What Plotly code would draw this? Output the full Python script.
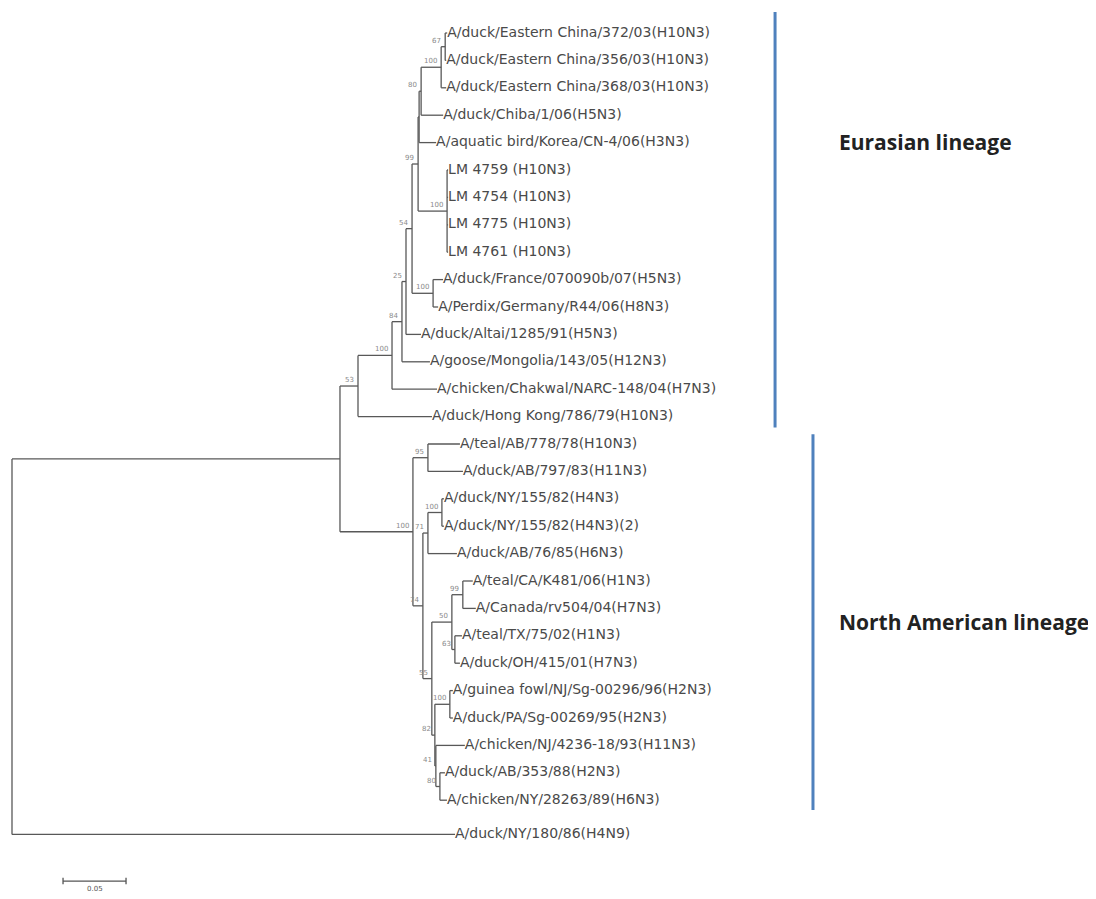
import plotly.graph_objects as go

# ---------------- tree data ----------------
names = [
    "root", "I", "E0", "E1", "E2", "E3", "E4", "X", "E6", "E7", "EC", "EC67",
    "A/duck/Eastern China/372/03(H10N3)", "A/duck/Eastern China/356/03(H10N3)",
    "A/duck/Eastern China/368/03(H10N3)", "A/duck/Chiba/1/06(H5N3)",
    "A/aquatic bird/Korea/CN-4/06(H3N3)",
    "LM", "LM 4759 (H10N3)", "LM 4754 (H10N3)", "LM 4775 (H10N3)", "LM 4761 (H10N3)",
    "FrPe", "A/duck/France/070090b/07(H5N3)", "A/Perdix/Germany/R44/06(H8N3)",
    "A/duck/Altai/1285/91(H5N3)", "A/goose/Mongolia/143/05(H12N3)",
    "A/chicken/Chakwal/NARC-148/04(H7N3)", "A/duck/Hong Kong/786/79(H10N3)",
    "N0", "ABp", "A/teal/AB/778/78(H10N3)", "A/duck/AB/797/83(H11N3)",
    "N1", "N71", "NYp", "A/duck/NY/155/82(H4N3)", "A/duck/NY/155/82(H4N3)(2)",
    "A/duck/AB/76/85(H6N3)",
    "N2", "G2", "G1", "A/teal/CA/K481/06(H1N3)", "A/Canada/rv504/04(H7N3)",
    "G3", "A/teal/TX/75/02(H1N3)", "A/duck/OH/415/01(H7N3)",
    "N3", "GP", "A/guinea fowl/NJ/Sg-00296/96(H2N3)", "A/duck/PA/Sg-00269/95(H2N3)",
    "N3b", "A/chicken/NJ/4236-18/93(H11N3)", "N4",
    "A/duck/AB/353/88(H2N3)", "A/chicken/NY/28263/89(H6N3)",
    "A/duck/NY/180/86(H4N9)",
]
parents = [
    None, "root", "I", "E0", "E1", "E2", "E3", "E4", "X", "E6", "E7", "EC",
    "EC67", "EC67",
    "EC", "E7",
    "E6",
    "X", "LM", "LM", "LM", "LM",
    "E4", "FrPe", "FrPe",
    "E3", "E2",
    "E1", "E0",
    "I", "N0", "ABp", "ABp",
    "N0", "N1", "N71", "NYp", "NYp",
    "N71",
    "N1", "N2", "G2", "G1", "G1",
    "G2", "G3", "G3",
    "N2", "N3", "GP", "GP",
    "N3", "N3b", "N3b",
    "N4", "N4",
    "root",
]
lengths = [
    0.0, 0.2603, 0.0143, 0.0270, 0.0079, 0.0032, 0.0048, 0.0048, 0.0008, 0.0016, 0.0159, 0.0032,
    0.0016, 0.0008,
    0.0040, 0.0175,
    0.0135,
    0.0230, 0.0008, 0.0008, 0.0008, 0.0008,
    0.0167, 0.0079, 0.0040,
    0.0119, 0.0222,
    0.0357, 0.0587,
    0.0579, 0.0119, 0.0254, 0.0278,
    0.0079, 0.0040, 0.0111, 0.0016, 0.0016,
    0.0230,
    0.0071, 0.0159, 0.0087, 0.0079, 0.0103,
    0.0024, 0.0056, 0.0040,
    0.0024, 0.0119, 0.0024, 0.0024,
    0.0008, 0.0230, 0.0032,
    0.0040, 0.0056,
    0.3516,
]
support = {
    "E0": 53, "E1": 100, "E2": 84, "E3": 25, "E4": 54, "X": 99, "E7": 80, "EC": 100,
    "EC67": 67, "LM": 100, "FrPe": 100,
    "N0": 100, "ABp": 95, "N1": 74, "N71": 71, "NYp": 100, "N2": 55, "G2": 50,
    "G1": 99, "G3": 63, "N3": 82, "GP": 100, "N3b": 41, "N4": 80,
}
lineage_names = ["Eurasian lineage", "North American lineage"]
lineage_first = ["A/duck/Eastern China/372/03(H10N3)", "A/teal/AB/778/78(H10N3)"]
lineage_last = ["A/duck/Hong Kong/786/79(H10N3)", "A/chicken/NY/28263/89(H6N3)"]
scale_length = 0.05
scale_label = "0.05"

# ---------------- layout of tree ----------------
children = {n: [] for n in names}
for n, p in zip(names, parents):
    if p is not None:
        children[p].append(n)
blen = dict(zip(names, lengths))

xpos, ypos = {}, {}
leaf_counter = [0.0]
outgroup_gap = 0.25


def place(node, x0):
    xpos[node] = x0 + blen[node]
    if not children[node]:
        ypos[node] = leaf_counter[0]
        leaf_counter[0] += 1
    else:
        for c in children[node]:
            if c == "A/duck/NY/180/86(H4N9)":
                leaf_counter[0] += outgroup_gap
            place(c, xpos[node])
        ypos[node] = (ypos[children[node][0]] + ypos[children[node][-1]]) / 2


place("root", 0.0)

hx, hy = [], []
for n, p in zip(names, parents):
    if p is not None:
        hx += [xpos[p], xpos[n], None]
        hy += [ypos[n], ypos[n], None]
    if children[n]:
        hx += [xpos[n], xpos[n], None]
        hy += [ypos[children[n][0]], ypos[children[n][-1]], None]

leaves = [n for n in names if not children[n]]

fig = go.Figure()
fig.add_trace(go.Scatter(x=hx, y=hy, mode="lines",
                         line=dict(color="#585858", width=1.3),
                         hoverinfo="skip", showlegend=False))
fig.add_trace(go.Scatter(x=[xpos[n] for n in leaves], y=[ypos[n] for n in leaves],
                         mode="text", text=[n for n in leaves],
                         textposition="middle right",
                         textfont=dict(family="DejaVu Sans", size=14, color="#4a4a4a"),
                         hoverinfo="skip", showlegend=False))

for n, s in support.items():
    fig.add_annotation(x=xpos[n], y=ypos[n], text=str(s), showarrow=False,
                       xanchor="right", yanchor="bottom", xshift=-2, yshift=0,
                       font=dict(family="DejaVu Sans", size=7, color="#8a8a8a"))

# lineage bars
bar_x = [0.6056, 0.6357]
for i, lname in enumerate(lineage_names):
    y0 = ypos[lineage_first[i]] - (0.77 if i == 0 else 0.36)
    y1 = ypos[lineage_last[i]] + (0.40 if i == 0 else 0.36)
    fig.add_trace(go.Scatter(x=[bar_x[i], bar_x[i]], y=[y0, y1], mode="lines",
                             line=dict(color="#4f81bd", width=3),
                             hoverinfo="skip", showlegend=False))
fig.add_annotation(x=0.6548, y=3.98, text="<b>Eurasian lineage</b>", showarrow=False,
                   xanchor="left", yanchor="middle",
                   font=dict(family="Open Sans", size=21, color="#222222"))
fig.add_annotation(x=0.6548, y=21.5, text="<b>North American lineage</b>", showarrow=False,
                   xanchor="left", yanchor="middle",
                   font=dict(family="Open Sans", size=21, color="#222222"))

# scale bar
sb_x0 = 0.0405
sb_y = 30.95
fig.add_trace(go.Scatter(x=[sb_x0, sb_x0 + scale_length], y=[sb_y, sb_y], mode="lines",
                         line=dict(color="#555555", width=1.3),
                         hoverinfo="skip", showlegend=False))
fig.add_trace(go.Scatter(x=[sb_x0, sb_x0, None, sb_x0 + scale_length, sb_x0 + scale_length],
                         y=[sb_y - 0.12, sb_y + 0.12, None, sb_y - 0.12, sb_y + 0.12],
                         mode="lines", line=dict(color="#555555", width=1.3),
                         hoverinfo="skip", showlegend=False))
fig.add_annotation(x=sb_x0 + scale_length / 2, y=sb_y, text=scale_label, showarrow=False,
                   yanchor="top", yshift=-2,
                   font=dict(family="DejaVu Sans", size=7, color="#555555"))

# page body has an 8px margin: figure is 1088x891 placed at (8, 8)
OFF = 8
fig.update_layout(
    width=1096 - OFF, height=899 - OFF,
    margin=dict(l=0, r=0, t=0, b=0),
    paper_bgcolor="white", plot_bgcolor="white",
    xaxis=dict(range=[(OFF - 12) / 1260, (1096 - 12) / 1260], visible=False, fixedrange=True),
    yaxis=dict(range=[(899 - 33) / 27.4, (OFF - 33) / 27.4], visible=False, fixedrange=True),
    showlegend=False,
)
fig.write_html("out.html")
